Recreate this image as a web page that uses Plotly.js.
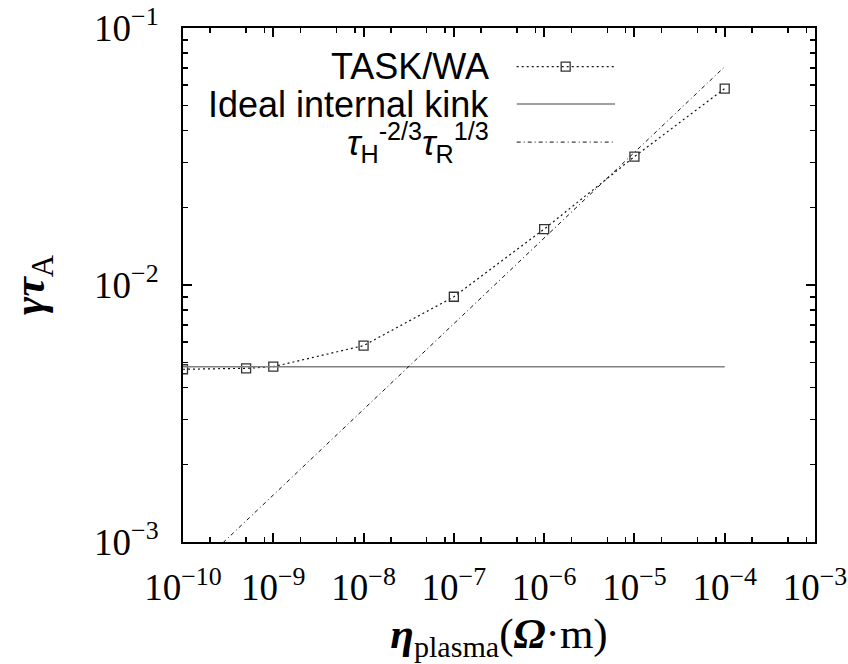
<!DOCTYPE html>
<html>
<head>
<meta charset="utf-8">
<script src="https://cdn.plot.ly/plotly-3.0.1.min.js"></script>
<style>html,body{margin:0;padding:0;background:#fff;}#chart{width:848px;height:664px;}</style>
</head>
<body>
<div id="chart"></div>
<script>
// ---- data ----
const etaTask = [1e-10, 5e-10, 1e-9, 1e-8, 1e-7, 1e-6, 1e-5, 1e-4];
const gammaTask = [4.70e-3, 4.74e-3, 4.81e-3, 5.81e-3, 9.0e-3, 1.65e-2, 3.16e-2, 5.81e-2];
const etaIdeal = [1e-10, 1e-4];
const gammaIdeal = [4.81e-3, 4.81e-3];
const etaScaling = [1e-10, 1e-4];
const gammaScaling = [7.07e-4, 7.07e-2];

const xTickVals = [1e-10, 1e-9, 1e-8, 1e-7, 1e-6, 1e-5, 1e-4, 1e-3];
const xTickText = ["10<sup>−10</sup>", "10<sup>−9</sup>", "10<sup>−8</sup>", "10<sup>−7</sup>",
                   "10<sup>−6</sup>", "10<sup>−5</sup>", "10<sup>−4</sup>", "10<sup>−3</sup>"];
const yTickVals = [1e-3, 1e-2, 1e-1];
const yTickText = ["10<sup>−3</sup>", "10<sup>−2</sup>", "10<sup>−1</sup>"];
const xMinorMultipliers = [2, 5, 8];

const legendNames = ["TASK/WA", "Ideal internal kink",
  "<i>τ</i><sub>H</sub><sup>-2/3</sup><i>τ</i><sub>R</sub><sup>1/3</sup>"];

// ---- styles ----
const serif = "Liberation Serif, Times New Roman, serif";
const sans = "Liberation Sans, Arial, Helvetica, sans-serif";
const taskLine = {color: "#111", width: 1.2, dash: "2px,3px"};
const idealLine = {color: "#808080", width: 1.6};
const scalingLine = {color: "#111", width: 1, dash: "4px,3px,1px,3px"};
const markerStyle = {symbol: "square-open", size: 9, color: "#333", line: {width: 1.3, color: "#333"}};

const traces = [
  {x: etaTask, y: gammaTask, type: "scatter", mode: "lines+markers", line: taskLine, marker: markerStyle, name: "TASK/WA"},
  {x: etaIdeal, y: gammaIdeal, type: "scatter", mode: "lines", line: idealLine, name: "Ideal internal kink"},
  {x: etaScaling, y: gammaScaling, type: "scatter", mode: "lines", line: scalingLine, name: "scaling"}
];

// x minor tick positions (2,5,8 per decade)
const xMinorVals = [];
for (let e = -10; e < -3; e++) xMinorMultipliers.forEach(m => xMinorVals.push(m * Math.pow(10, e)));

// legend placement (paper fractions)
const legTextX = 0.488;
const legRows = [0.925, 0.852, 0.778];
const legX0 = 0.528, legX1 = 0.6835, legXm = 0.6055;

const annotations = legendNames.map((t, i) => ({
  xref: "paper", yref: "paper", x: legTextX, y: legRows[i], xanchor: "right", yanchor: "middle",
  text: t, showarrow: false, font: {family: sans, size: 36, color: "#000"}
}));

const shapes = [
  {type: "line", xref: "paper", yref: "paper", x0: legX0, x1: legX1, y0: legRows[0], y1: legRows[0], line: taskLine},
  {type: "rect", xref: "paper", yref: "paper", xsizemode: "pixel", ysizemode: "pixel",
   xanchor: legXm, yanchor: legRows[0], x0: -4.5, x1: 4.5, y0: -4.5, y1: 4.5,
   line: {color: "#333", width: 1.3}, fillcolor: "rgba(0,0,0,0)"},
  {type: "line", xref: "paper", yref: "paper", x0: legX0, x1: legX1, y0: legRows[1], y1: legRows[1], line: idealLine},
  {type: "line", xref: "paper", yref: "paper", x0: legX0, x1: legX1, y0: legRows[2], y1: legRows[2], line: scalingLine}
];

const axisCommon = {
  type: "log", showgrid: false, zeroline: false, showline: true, linecolor: "#000", linewidth: 2,
  mirror: "allticks", ticks: "inside", ticklen: 9, tickwidth: 2, tickcolor: "#000",
  tickmode: "array", tickfont: {family: serif, size: 37, color: "#000"}
};

const layout = {
  width: 848, height: 664,
  margin: {l: 183, r: 33, t: 28, b: 122},
  paper_bgcolor: "#fff", plot_bgcolor: "#fff",
  showlegend: false,
  xaxis: Object.assign({}, axisCommon, {
    range: [-10, -3], tickvals: xTickVals, ticktext: xTickText, ticklabelstandoff: 12,
    minor: {ticks: "inside", ticklen: 5, tickwidth: 1.5, tickcolor: "#000", tickmode: "array", tickvals: xMinorVals, showgrid: false},
    title: {text: "<b><i>η</i></b><sub>plasma</sub>(<b><i>Ω</i></b>·m)", font: {family: serif, size: 43, color: "#000"}, standoff: 11}
  }),
  yaxis: Object.assign({}, axisCommon, {
    range: [-3, -1], tickvals: yTickVals, ticktext: yTickText, ticklabelstandoff: 15,
    minor: {ticks: "inside", ticklen: 5, tickwidth: 1.5, tickcolor: "#000", dtick: "D1", showgrid: false},
    title: {text: "<b><i>γτ</i></b><sub>A</sub>", font: {family: serif, size: 44, color: "#000"}, standoff: 36}
  }),
  annotations: annotations,
  shapes: shapes
};

Plotly.newPlot("chart", traces, layout, {displayModeBar: false, staticPlot: true});
</script>
</body>
</html>
